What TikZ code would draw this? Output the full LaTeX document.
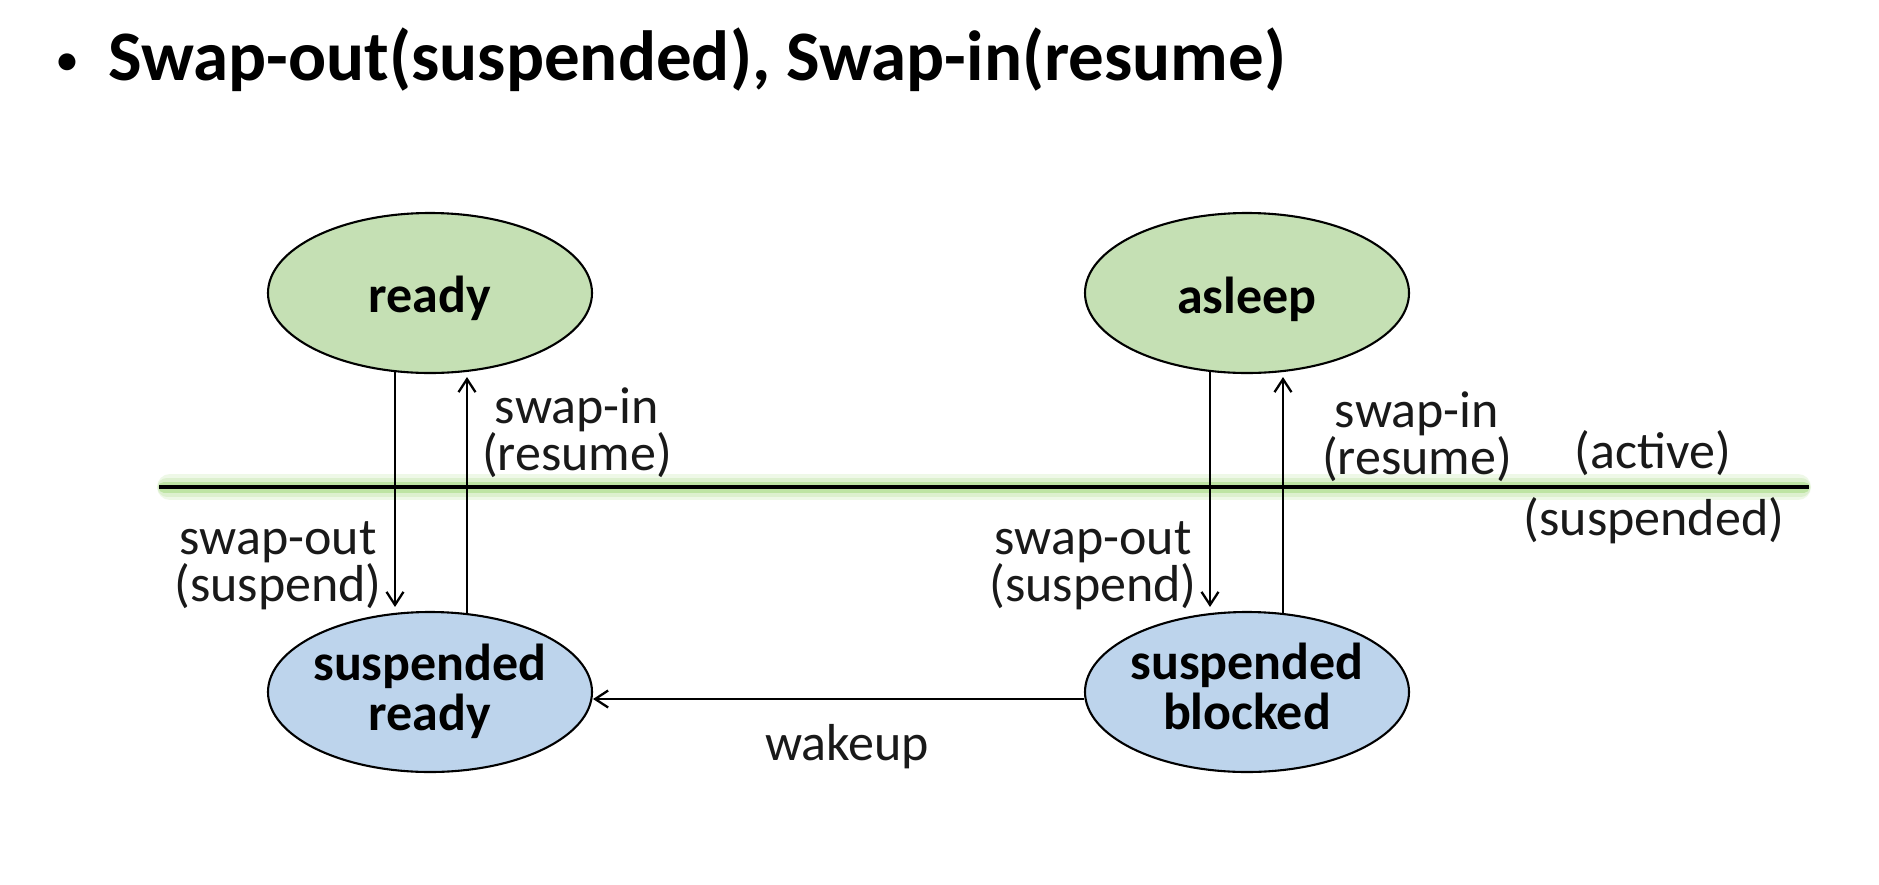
\documentclass[tikz,border=0pt]{standalone}
\usepackage{fontspec}
\setmainfont{Carlito}
\usetikzlibrary{shapes.geometric,arrows.meta,calc}
\definecolor{stgreen}{HTML}{C5E0B4}
\definecolor{stblue}{HTML}{BDD4EC}
\definecolor{glowO}{HTML}{EEF8E7}
\definecolor{glowA}{HTML}{DDF0CF}
\definecolor{glowB}{HTML}{BEE4A4}
\tikzset{
  state/.style={ellipse, draw=black, line width=2.1pt, minimum width=324pt, minimum height=160pt, inner sep=0pt},
  activestate/.style={state, fill=stgreen},
  suspstate/.style={state, fill=stblue},
  stlabel/.style={font=\fontsize{52}{50}\selectfont\bfseries, align=center, inner sep=0pt},
  edgelabel/.style={font=\fontsize{52}{45}\selectfont, align=center, inner sep=0pt, text=black!90},
  trans/.style={line width=2pt, -{Straight Barb[length=13pt,width=17pt,line width=2.3pt]}},
}
\begin{document}
\begin{tikzpicture}[x=1pt,y=-1pt]
\useasboundingbox[fill=white] (0,0) rectangle (1879,884);

% title
\node[anchor=base, font=\fontsize{40}{44}\selectfont\bfseries, inner sep=0pt] (bullet) at (67,73) {•};
\node[anchor=base west, font=\fontsize{71}{80}\selectfont\bfseries, inner sep=0pt] (title) at (108,80) {Swap-out(suspended), Swap-in(resume)};

% separator line
\coordinate (sepL) at (159,487);
\coordinate (sepR) at (1809,487);
\draw[line width=26pt, glowO, line cap=round, shorten <=11pt, shorten >=11pt] (sepL) -- (sepR);
\draw[line width=19pt, glowA, line cap=round, shorten <=8pt, shorten >=8pt] (sepL) -- (sepR);
\draw[line width=11pt, glowB, line cap=round, shorten <=5pt, shorten >=5pt] (sepL) -- (sepR);
\draw[line width=3.8pt, black] (sepL) -- (sepR);

% states
\node[activestate] (ready) at (430,293) {};
\node[activestate] (asleep) at (1247,293) {};
\node[suspstate] (sr) at (430,692) {};
\node[suspstate] (sb) at (1247,692) {};

\node[stlabel] (tready) at ([yshift=-5pt]ready.center) {ready};
\node[stlabel] (tasleep) at ([yshift=-6pt]asleep.center) {asleep};
\node[stlabel] (tsr) at ([yshift=1pt]sr.center) {suspended\\ready};
\node[stlabel] (tsb) at ([yshift=6pt]sb.center) {suspended\\blocked};

% transitions
\draw[trans] ([xshift=-35pt,yshift=2pt]ready.south) -- ([xshift=-35pt,yshift=4pt]sr.north);
\draw[trans] ([xshift=37pt,yshift=-2pt]sr.north) -- ([xshift=37pt,yshift=-3pt]ready.south);
\draw[trans] ([xshift=-37pt,yshift=2pt]asleep.south) -- ([xshift=-37pt,yshift=4pt]sb.north);
\draw[trans] ([xshift=36pt,yshift=-2pt]sb.north) -- ([xshift=36pt,yshift=-3pt]asleep.south);
\draw[trans] ([yshift=-7pt]sb.west) -- ([yshift=-7pt]sr.east);

% labels
\node[edgelabel] (lsi1) at (577,433) {swap-in\\(resume)};
\node[edgelabel] (lsi2) at (1417,437) {swap-in\\(resume)};
\node[edgelabel] (lso1) at (278,566) {swap-out\\(suspend)};
\node[edgelabel] (lso2) at (1093,566) {swap-out\\(suspend)};
\node[edgelabel] (lwake) at (847,747) {wakeup};
\node[edgelabel] (lact) at (1653,453) {(active)};
\node[edgelabel] (lsus) at (1654,521) {(suspended)};
\end{tikzpicture}
\end{document}
